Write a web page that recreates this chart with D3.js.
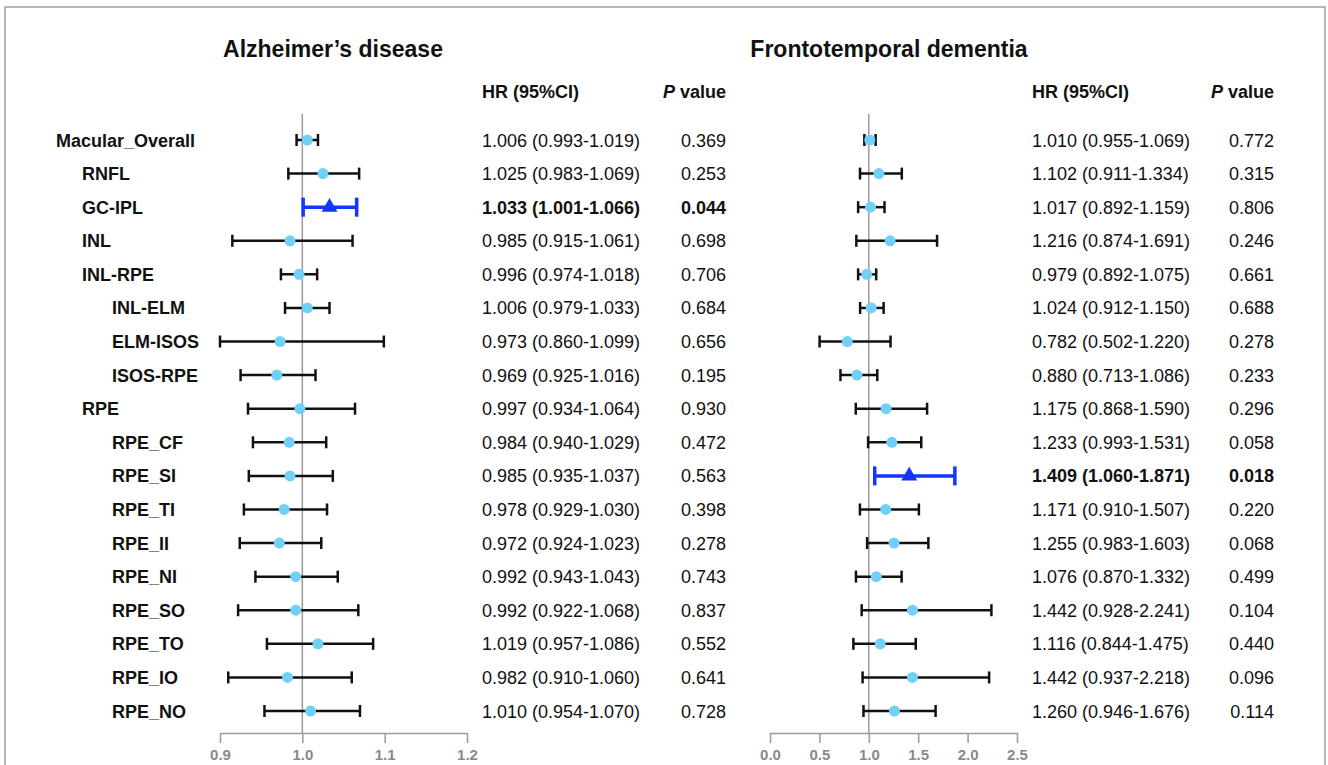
<!DOCTYPE html>
<html>
<head>
<meta charset="utf-8">
<script src="https://cdn.jsdelivr.net/npm/d3@7"></script>
<style>
  body { margin: 0; background: #fff; }
  text { font-family: "Liberation Sans", Arial, sans-serif; }
</style>
</head>
<body>
<script>
// forest plot, AD vs FTD
var w = 1328, h = 765;

var labels = ["Macular_Overall","RNFL","GC-IPL","INL","INL-RPE","INL-ELM","ELM-ISOS","ISOS-RPE","RPE",
  "RPE_CF","RPE_SI","RPE_TI","RPE_II","RPE_NI","RPE_SO","RPE_TO","RPE_IO","RPE_NO"];
var levels = [0,1,1,1,1,2,2,2,1,2,2,2,2,2,2,2,2,2];

// Alzheimer's disease
var adHR = [1.006,1.025,1.033,0.985,0.996,1.006,0.973,0.969,0.997,0.984,0.985,0.978,0.972,0.992,0.992,1.019,0.982,1.010];
var adLo = [0.993,0.983,1.001,0.915,0.974,0.979,0.860,0.925,0.934,0.940,0.935,0.929,0.924,0.943,0.922,0.957,0.910,0.954];
var adHi = [1.019,1.069,1.066,1.061,1.018,1.033,1.099,1.016,1.064,1.029,1.037,1.030,1.023,1.043,1.068,1.086,1.060,1.070];
var adP  = [0.369,0.253,0.044,0.698,0.706,0.684,0.656,0.195,0.930,0.472,0.563,0.398,0.278,0.743,0.837,0.552,0.641,0.728];

// Frontotemporal dementia
var ftdHR = [1.010,1.102,1.017,1.216,0.979,1.024,0.782,0.880,1.175,1.233,1.409,1.171,1.255,1.076,1.442,1.116,1.442,1.260];
var ftdLo = [0.955,0.911,0.892,0.874,0.892,0.912,0.502,0.713,0.868,0.993,1.060,0.910,0.983,0.870,0.928,0.844,0.937,0.946];
var ftdHi = [1.069,1.334,1.159,1.691,1.075,1.150,1.220,1.086,1.590,1.531,1.871,1.507,1.603,1.332,2.241,1.475,2.218,1.676];
var ftdP  = [0.772,0.315,0.806,0.246,0.661,0.688,0.278,0.233,0.296,0.058,0.018,0.220,0.068,0.499,0.104,0.440,0.096,0.114];

var adTicks = [0.9,1.0,1.1,1.2];
var ftdTicks = [0,0.5,1.0,1.5,2.0,2.5];

var svg = d3.select("body").append("svg")
  .attr("width", w)
  .attr("height", h);

// frame
svg.append("rect")
  .attr("x", 5).attr("y", 7)
  .attr("width", 1320).attr("height", 800)
  .attr("fill", "none")
  .attr("stroke", "#a0a0a0")
  .attr("stroke-width", 1.5);

var y = d3.scalePoint().domain(labels).range([140, 711]);
var axisY = 733;

// row labels
var indent = [56, 82, 112];
svg.selectAll("text.lab")
  .data(labels)
  .enter()
  .append("text")
  .attr("class", "lab")
  .attr("x", function(d,i){ return indent[levels[i]]; })
  .attr("y", function(d){ return y(d) + 6.5; })
  .attr("font-size", 18)
  .attr("font-weight", "bold")
  .attr("fill", "#111")
  .text(function(d){ return d; });

function panel(opt) {
  var x = d3.scaleLinear().domain(opt.domain).range(opt.range).clamp(true);
  var rows = labels.map(function(d,i){
    return {name: d, hr: opt.hr[i], lo: opt.lo[i], hi: opt.hi[i], p: opt.p[i], sig: opt.p[i] < 0.05};
  });

  // title
  svg.append("text")
    .attr("x", opt.titleX).attr("y", 57)
    .attr("text-anchor", "middle")
    .attr("font-size", 23)
    .attr("font-weight", "bold")
    .attr("fill", "#111")
    .text(opt.title);

  // headers
  svg.append("text")
    .attr("x", opt.hrX).attr("y", 98)
    .attr("font-size", 18).attr("font-weight", "bold").attr("fill", "#111")
    .text("HR (95%CI)");
  var ph = svg.append("text")
    .attr("x", opt.pX).attr("y", 98)
    .attr("text-anchor", "end")
    .attr("font-size", 18).attr("font-weight", "bold").attr("fill", "#111");
  ph.append("tspan").attr("font-style", "italic").text("P");
  ph.append("tspan").text(" value");

  // reference line at 1
  svg.append("line")
    .attr("x1", x(1)).attr("x2", x(1))
    .attr("y1", 114).attr("y2", axisY)
    .attr("stroke", "#9a9a9a")
    .attr("stroke-width", 1.5);

  // axis
  var ax = svg.append("g")
    .attr("transform", "translate(0," + axisY + ")")
    .call(d3.axisBottom(x).tickValues(opt.ticks).tickSize(10).tickSizeOuter(0).tickPadding(6)
      .tickFormat(d3.format(".1f")));
  ax.select(".domain").attr("stroke", "#9a9a9a").attr("stroke-width", 1.5);
  ax.selectAll(".tick line").attr("stroke", "#9a9a9a").attr("stroke-width", 1.5);
  ax.selectAll(".tick text")
    .attr("font-size", 15)
    .attr("font-weight", "bold")
    .attr("font-family", "Liberation Sans, Arial, sans-serif")
    .attr("fill", "#8a8a8a");

  var g = svg.append("g");
  var row = g.selectAll("g")
    .data(rows)
    .enter()
    .append("g")
    .attr("transform", function(d){ return "translate(0," + y(d.name) + ")"; });

  // CI line + caps
  row.append("line")
    .attr("x1", function(d){ return x(d.lo); })
    .attr("x2", function(d){ return x(d.hi); })
    .attr("stroke", function(d){ return d.sig ? "#1236ff" : "#111"; })
    .attr("stroke-width", function(d){ return d.sig ? 3.5 : 2.5; });
  row.selectAll("line.cap")
    .data(function(d){ return [{v: d.lo, sig: d.sig}, {v: d.hi, sig: d.sig}]; })
    .enter()
    .append("line")
    .attr("class", "cap")
    .attr("x1", function(d){ return x(d.v); })
    .attr("x2", function(d){ return x(d.v); })
    .attr("y1", function(d){ return d.sig ? -9.5 : -6; })
    .attr("y2", function(d){ return d.sig ? 9.5 : 6; })
    .attr("stroke", function(d){ return d.sig ? "#1236ff" : "#111"; })
    .attr("stroke-width", function(d){ return d.sig ? 3.5 : 2.5; });

  // points
  row.filter(function(d){ return !d.sig; })
    .append("circle")
    .attr("cx", function(d){ return x(d.hr); })
    .attr("r", 5.5)
    .attr("fill", "#70d0f8");
  row.filter(function(d){ return d.sig; })
    .append("path")
    .attr("d", d3.symbol(d3.symbolTriangle, 110))
    .attr("transform", function(d){ return "translate(" + x(d.hr) + ",0)"; })
    .attr("fill", "#1236ff");

  // text columns
  row.append("text")
    .attr("x", opt.hrX).attr("y", 6.5)
    .attr("font-size", 18)
    .attr("font-weight", function(d){ return d.sig ? "bold" : "normal"; })
    .attr("fill", "#111")
    .text(function(d){ return d.hr.toFixed(3) + " (" + d.lo.toFixed(3) + "-" + d.hi.toFixed(3) + ")"; });
  row.append("text")
    .attr("x", opt.pX).attr("y", 6.5)
    .attr("text-anchor", "end")
    .attr("font-size", 18)
    .attr("font-weight", function(d){ return d.sig ? "bold" : "normal"; })
    .attr("fill", "#111")
    .text(function(d){ return d.p.toFixed(3); });
}

panel({title: "Alzheimer\u2019s disease", titleX: 333, domain: [0.9, 1.2], range: [220, 467], ticks: adTicks,
  hr: adHR, lo: adLo, hi: adHi, p: adP, hrX: 482, pX: 726});
panel({title: "Frontotemporal dementia", titleX: 889, domain: [0, 2.5], range: [770, 1017], ticks: ftdTicks,
  hr: ftdHR, lo: ftdLo, hi: ftdHi, p: ftdP, hrX: 1032, pX: 1274});
</script>
</body>
</html>
